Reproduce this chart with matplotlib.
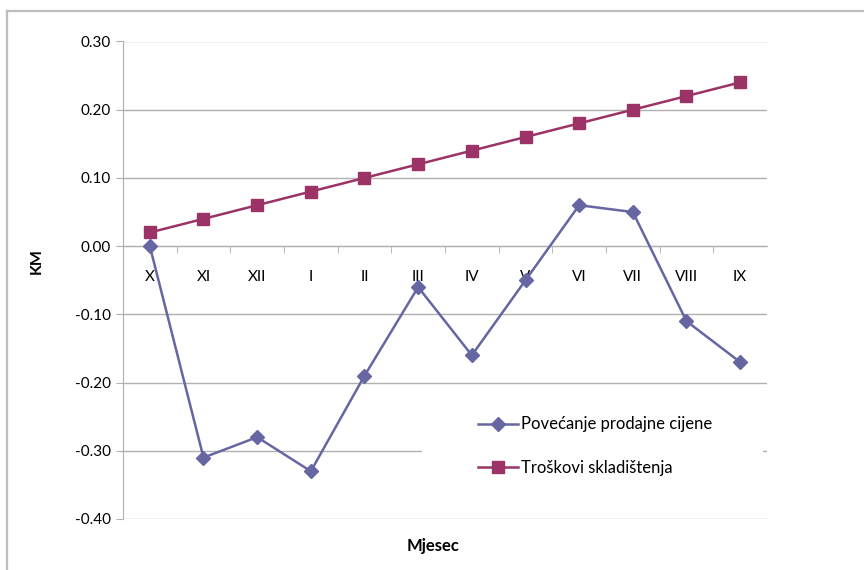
import numpy as np
import matplotlib.pyplot as plt
from matplotlib.patches import Rectangle
from matplotlib.lines import Line2D

plt.rcParams['font.family'] = ['Lato', 'DejaVu Sans']

months = ['X', 'XI', 'XII', 'I', 'II', 'III', 'IV', 'V', 'VI', 'VII', 'VIII', 'IX']
povecanje = [0.00, -0.31, -0.28, -0.33, -0.19, -0.06, -0.16, -0.05, 0.06, 0.05, -0.11, -0.17]
troskovi = [0.02, 0.04, 0.06, 0.08, 0.10, 0.12, 0.14, 0.16, 0.18, 0.20, 0.22, 0.24]
yticks = [-0.40, -0.30, -0.20, -0.10, 0.00, 0.10, 0.20, 0.30]

blue = '#6666A3'
red = '#9B3366'
grey = '#B0B0B0'

fig = plt.figure(figsize=(8.64, 5.70), dpi=100)
# outer chart frame
fig.add_artist(Line2D([6.5/864, 6.5/864], [0, 1 - 11/570], color='#BDBDBD', lw=1.6))
fig.add_artist(Line2D([6.5/864, 1], [1 - 11/570, 1 - 11/570], color='#BDBDBD', lw=1.6))

ax = fig.add_axes([123/864, 1 - 519/570, 644/864, 477.5/570])
x = np.arange(len(months))

ax.set_axisbelow(True)
ax.grid(axis='y', color=grey, lw=1)
ax.add_patch(Rectangle((0.464, 0.03), 0.53, 0.23, transform=ax.transAxes,
                       facecolor='white', edgecolor='none', zorder=1.5))

ax.plot(x, povecanje, color=blue, lw=1.8, marker='D', ms=7.5, label='Povećanje prodajne cijene', zorder=3)
ax.plot(x, troskovi, color=red, lw=1.8, marker='s', ms=8, label='Troškovi skladištenja', zorder=3)

ax.set_xlim(-0.5, len(months) - 0.5)
ax.set_ylim(-0.40, 0.30)
ax.set_yticks(yticks)
ax.set_yticklabels(['%.2f' % v for v in yticks])

for s in ['top', 'right']:
    ax.spines[s].set_visible(False)
ax.spines['left'].set_color(grey)
ax.spines['bottom'].set_color(grey)
ax.spines['bottom'].set_position(('data', 0))

ax.set_xticks(x)
ax.set_xticklabels(months)
ax.set_xticks(np.arange(0.5, len(months) - 0.5, 1), minor=True)
ax.tick_params(axis='x', which='major', length=0, pad=17, labelsize=11, colors='black')
ax.tick_params(axis='x', which='minor', length=5, color=grey, direction='out')
ax.tick_params(axis='y', length=5, color=grey, labelsize=11, pad=4)

fig.text(37/864, 1 - 261/570, 'KM', rotation=90, fontsize=11.5, fontweight='bold', ha='center', va='center')
fig.text(433/864, 1 - 546/570, 'Mjesec', fontsize=12, fontweight='bold', ha='center', va='center')

ax.legend(loc='upper left', bbox_to_anchor=(0.551, 0.215), frameon=False, fontsize=12,
          handlelength=2.4, handletextpad=0.2, labelspacing=1.63, borderpad=0, borderaxespad=0)

fig.savefig('out.png', dpi=100)
